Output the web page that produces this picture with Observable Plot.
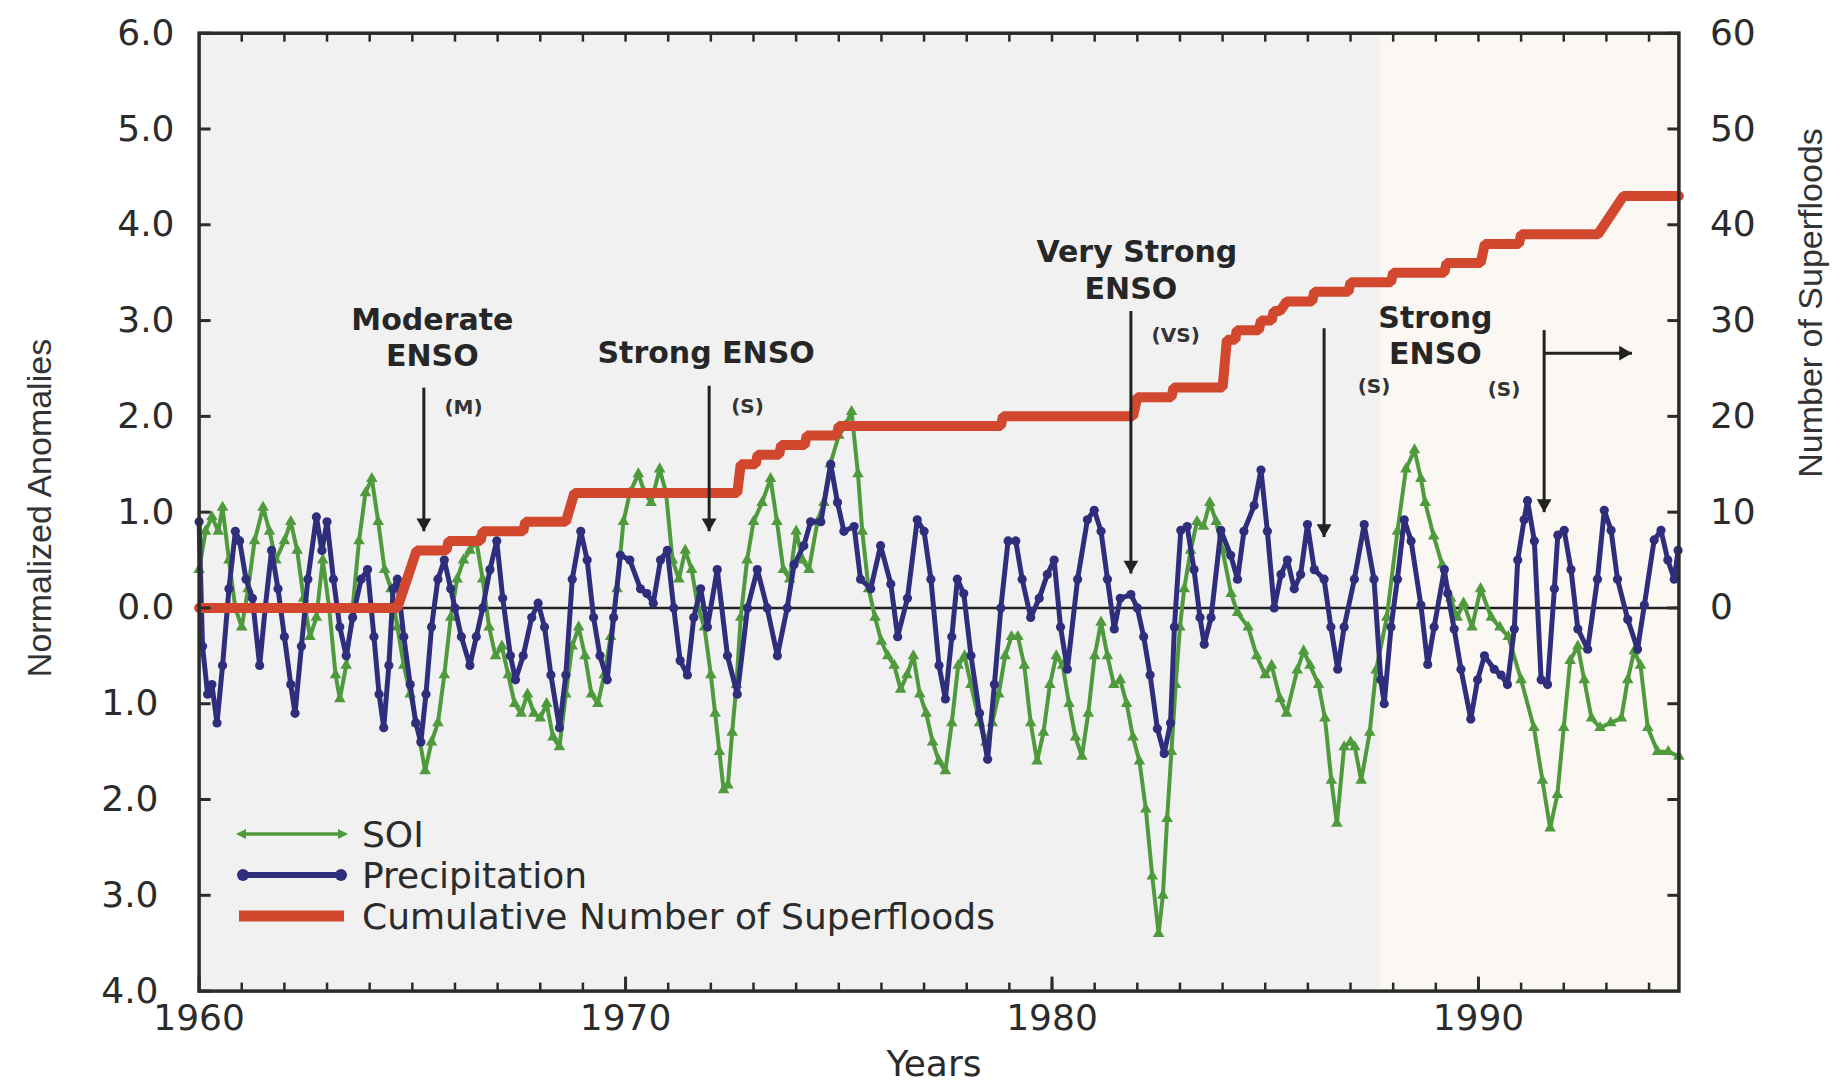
<!DOCTYPE html>
<html><head><meta charset="utf-8">
<script src="https://cdn.jsdelivr.net/npm/d3@7"></script>
<script src="https://cdn.jsdelivr.net/npm/@observablehq/plot@0.6"></script>
<style>
html,body{margin:0;padding:0;background:#fff;}
#wrap{position:relative;width:1832px;height:1084px;overflow:hidden;background:#fff;}
#wrap svg{position:absolute;left:0;top:0;}
</style></head><body><div id="wrap"></div>
<script>
// ---- data ----
const soiSeries = [[1960.0,0.4],[1960.15,0.8],[1960.3,0.95],[1960.45,0.8],[1960.55,1.05],[1960.7,0.5],[1960.85,0.0],[1961.0,-0.2],[1961.15,0.2],[1961.3,0.7],[1961.5,1.05],[1961.65,0.8],[1961.8,0.5],[1962.0,0.7],[1962.15,0.9],[1962.3,0.6],[1962.45,0.1],[1962.6,-0.3],[1962.75,-0.1],[1962.9,0.5],[1963.05,0.0],[1963.2,-0.7],[1963.3,-0.95],[1963.45,-0.6],[1963.6,0.0],[1963.75,0.7],[1963.9,1.2],[1964.05,1.35],[1964.2,0.9],[1964.35,0.4],[1964.5,0.2],[1964.65,-0.2],[1964.8,-0.6],[1964.95,-0.9],[1965.1,-1.2],[1965.3,-1.7],[1965.45,-1.4],[1965.6,-1.2],[1965.75,-0.7],[1965.9,-0.1],[1966.05,0.3],[1966.2,0.5],[1966.35,0.6],[1966.5,0.7],[1966.65,0.3],[1966.8,-0.2],[1966.95,-0.5],[1967.1,-0.4],[1967.25,-0.7],[1967.4,-1.0],[1967.55,-1.1],[1967.7,-0.9],[1967.85,-1.1],[1968.0,-1.15],[1968.15,-1.0],[1968.3,-1.35],[1968.45,-1.45],[1968.6,-0.9],[1968.75,-0.4],[1968.9,-0.2],[1969.05,-0.5],[1969.2,-0.9],[1969.35,-1.0],[1969.5,-0.7],[1969.65,-0.3],[1969.8,0.2],[1969.95,0.9],[1970.1,1.2],[1970.3,1.4],[1970.45,1.2],[1970.6,1.1],[1970.8,1.45],[1970.95,1.2],[1971.1,0.5],[1971.25,0.3],[1971.4,0.6],[1971.55,0.4],[1971.7,0.0],[1971.85,-0.2],[1972.0,-0.7],[1972.1,-1.1],[1972.2,-1.5],[1972.3,-1.9],[1972.4,-1.85],[1972.5,-1.3],[1972.6,-0.8],[1972.7,-0.1],[1972.85,0.5],[1973.0,0.9],[1973.2,1.1],[1973.4,1.35],[1973.55,0.9],[1973.7,0.4],[1973.85,0.3],[1974.0,0.8],[1974.15,0.5],[1974.3,0.4],[1974.5,0.9],[1974.65,1.1],[1974.8,1.5],[1975.0,1.8],[1975.15,1.9],[1975.3,2.05],[1975.45,1.4],[1975.55,0.8],[1975.7,0.2],[1975.85,-0.1],[1976.0,-0.35],[1976.15,-0.5],[1976.3,-0.6],[1976.45,-0.85],[1976.6,-0.7],[1976.75,-0.5],[1976.9,-0.9],[1977.05,-1.1],[1977.2,-1.4],[1977.35,-1.6],[1977.5,-1.7],[1977.65,-1.2],[1977.8,-0.6],[1977.95,-0.5],[1978.1,-0.8],[1978.3,-1.2],[1978.45,-1.4],[1978.6,-1.2],[1978.75,-0.9],[1978.9,-0.5],[1979.05,-0.3],[1979.2,-0.3],[1979.35,-0.6],[1979.5,-1.2],[1979.65,-1.6],[1979.8,-1.3],[1979.95,-0.8],[1980.1,-0.5],[1980.25,-0.6],[1980.4,-1.0],[1980.55,-1.35],[1980.7,-1.55],[1980.85,-1.1],[1981.0,-0.5],[1981.15,-0.15],[1981.3,-0.5],[1981.45,-0.8],[1981.6,-0.75],[1981.75,-1.0],[1981.9,-1.35],[1982.05,-1.6],[1982.2,-2.1],[1982.35,-2.8],[1982.5,-3.4],[1982.6,-3.0],[1982.7,-2.2],[1982.8,-1.5],[1982.9,-0.8],[1983.0,-0.2],[1983.1,0.2],[1983.25,0.6],[1983.4,0.9],[1983.55,0.85],[1983.7,1.1],[1983.85,0.9],[1984.0,0.6],[1984.2,0.15],[1984.35,-0.05],[1984.6,-0.2],[1984.8,-0.5],[1985.0,-0.7],[1985.15,-0.6],[1985.35,-0.95],[1985.5,-1.1],[1985.75,-0.65],[1985.9,-0.45],[1986.05,-0.6],[1986.25,-0.8],[1986.4,-1.15],[1986.55,-1.8],[1986.68,-2.25],[1986.85,-1.45],[1987.0,-1.4],[1987.1,-1.45],[1987.25,-1.8],[1987.45,-1.3],[1987.6,-0.65],[1987.85,-0.1],[1988.1,0.8],[1988.3,1.45],[1988.5,1.65],[1988.65,1.35],[1988.75,1.1],[1988.95,0.75],[1989.15,0.45],[1989.35,0.1],[1989.5,-0.1],[1989.65,0.05],[1989.85,-0.2],[1990.05,0.2],[1990.3,-0.1],[1990.5,-0.2],[1990.7,-0.3],[1991.0,-0.75],[1991.3,-1.25],[1991.5,-1.8],[1991.68,-2.3],[1991.85,-1.95],[1992.0,-1.25],[1992.15,-0.55],[1992.33,-0.4],[1992.48,-0.75],[1992.65,-1.15],[1992.85,-1.25],[1993.1,-1.2],[1993.35,-1.15],[1993.5,-0.75],[1993.65,-0.45],[1993.8,-0.6],[1993.97,-1.25],[1994.2,-1.5],[1994.45,-1.5],[1994.7,-1.55]];

const precipSeries = [[1960.0,0.9],[1960.08,-0.4],[1960.2,-0.9],[1960.3,-0.8],[1960.42,-1.2],[1960.55,-0.6],[1960.7,0.2],[1960.85,0.8],[1960.95,0.7],[1961.1,0.3],[1961.25,0.1],[1961.42,-0.6],[1961.55,0.0],[1961.7,0.6],[1961.85,0.2],[1962.0,-0.3],[1962.15,-0.8],[1962.25,-1.1],[1962.4,-0.4],[1962.55,0.3],[1962.75,0.95],[1962.88,0.6],[1963.0,0.9],[1963.15,0.3],[1963.3,-0.2],[1963.45,-0.5],[1963.6,-0.1],[1963.8,0.3],[1963.95,0.4],[1964.1,-0.3],[1964.22,-0.9],[1964.33,-1.25],[1964.45,-0.6],[1964.55,0.2],[1964.65,0.3],[1964.8,-0.3],[1964.95,-0.8],[1965.08,-1.2],[1965.2,-1.4],[1965.32,-0.9],[1965.45,-0.2],[1965.6,0.3],[1965.75,0.5],[1965.9,0.2],[1966.0,0.0],[1966.15,-0.3],[1966.35,-0.6],[1966.5,-0.3],[1966.65,0.0],[1966.82,0.4],[1966.98,0.7],[1967.12,0.1],[1967.3,-0.5],[1967.42,-0.75],[1967.6,-0.5],[1967.8,-0.1],[1967.95,0.05],[1968.1,-0.2],[1968.25,-0.7],[1968.45,-1.25],[1968.6,-0.7],[1968.75,0.3],[1968.95,0.8],[1969.1,0.5],[1969.25,-0.1],[1969.4,-0.5],[1969.57,-0.75],[1969.72,-0.1],[1969.88,0.55],[1970.1,0.5],[1970.35,0.2],[1970.5,0.15],[1970.65,0.05],[1970.82,0.5],[1970.98,0.6],[1971.13,0.0],[1971.28,-0.55],[1971.45,-0.7],[1971.6,-0.1],[1971.76,0.2],[1971.92,-0.2],[1972.15,0.4],[1972.39,-0.5],[1972.62,-0.9],[1972.86,0.0],[1973.09,0.4],[1973.32,0.0],[1973.56,-0.5],[1973.79,0.0],[1973.95,0.45],[1974.18,0.65],[1974.34,0.9],[1974.58,0.9],[1974.81,1.5],[1974.97,1.1],[1975.12,0.8],[1975.36,0.85],[1975.51,0.3],[1975.75,0.2],[1975.98,0.65],[1976.22,0.25],[1976.38,-0.3],[1976.61,0.1],[1976.84,0.92],[1977.0,0.8],[1977.16,0.3],[1977.35,-0.6],[1977.5,-0.95],[1977.65,-0.3],[1977.78,0.3],[1977.93,0.15],[1978.1,-0.5],[1978.3,-1.1],[1978.49,-1.58],[1978.65,-0.8],[1978.8,0.0],[1978.97,0.7],[1979.15,0.7],[1979.3,0.3],[1979.5,-0.1],[1979.7,0.1],[1979.89,0.35],[1980.05,0.5],[1980.2,-0.2],[1980.36,-0.64],[1980.6,0.3],[1980.83,0.92],[1980.99,1.02],[1981.15,0.8],[1981.3,0.3],[1981.46,-0.22],[1981.6,0.1],[1981.85,0.14],[1982.0,0.0],[1982.15,-0.3],[1982.3,-0.7],[1982.47,-1.26],[1982.63,-1.52],[1982.78,-1.2],[1982.87,-0.2],[1983.02,0.81],[1983.17,0.85],[1983.33,0.4],[1983.47,-0.1],[1983.57,-0.38],[1983.73,-0.1],[1983.96,0.81],[1984.19,0.55],[1984.35,0.3],[1984.5,0.8],[1984.74,1.07],[1984.9,1.44],[1985.05,0.8],[1985.21,0.0],[1985.37,0.35],[1985.52,0.5],[1985.68,0.2],[1985.83,0.35],[1985.99,0.87],[1986.15,0.4],[1986.38,0.3],[1986.54,-0.2],[1986.7,-0.64],[1986.85,-0.2],[1987.09,0.3],[1987.32,0.87],[1987.55,0.3],[1987.71,-0.75],[1987.79,-1.0],[1987.95,-0.2],[1988.1,0.3],[1988.26,0.92],[1988.42,0.7],[1988.65,0.03],[1988.81,-0.59],[1988.96,-0.2],[1989.2,0.4],[1989.28,0.15],[1989.43,-0.22],[1989.59,-0.64],[1989.82,-1.16],[1989.98,-0.75],[1990.14,-0.5],[1990.37,-0.64],[1990.53,-0.7],[1990.68,-0.8],[1990.84,-0.22],[1990.92,0.5],[1991.07,0.92],[1991.15,1.12],[1991.31,0.7],[1991.47,-0.75],[1991.62,-0.8],[1991.78,0.2],[1991.86,0.76],[1992.01,0.81],[1992.17,0.4],[1992.33,-0.22],[1992.56,-0.43],[1992.79,0.3],[1992.95,1.02],[1993.11,0.81],[1993.26,0.3],[1993.5,-0.12],[1993.73,-0.43],[1993.89,0.03],[1994.12,0.71],[1994.28,0.81],[1994.44,0.5],[1994.59,0.3],[1994.68,0.6]];

// cumulative number of superfloods (right axis, 0-60)
const floodSteps = [[1960.0,0],[1964.65,0],[1965.1,6],[1965.8,6],[1965.85,7],[1966.6,7],[1966.65,8],[1967.6,8],[1967.65,9],[1968.6,9],[1968.8,12],[1972.62,12],[1972.7,15],[1973.05,15],[1973.1,16],[1973.6,16],[1973.65,17],[1974.2,17],[1974.25,18],[1974.95,18],[1975.0,19],[1978.8,19],[1978.85,20],[1981.9,20],[1982.0,22],[1982.8,22],[1982.85,23],[1984.0,23],[1984.1,28],[1984.3,28],[1984.33,29],[1984.85,29],[1984.9,30],[1985.15,30],[1985.2,31],[1985.35,31],[1985.5,32],[1986.1,32],[1986.15,33],[1986.95,33],[1987.0,34],[1987.95,34],[1988.0,35],[1989.2,35],[1989.25,36],[1990.05,36],[1990.15,38],[1990.95,38],[1991.0,39],[1992.8,39],[1993.4,43],[1994.7,43]];

const yearTicks = [1960, 1970, 1980, 1990];
const anomalyTicks = [6, 5, 4, 3, 2, 1, 0, -1, -2, -3, -4];
const floodTicks = [0, 10, 20, 30, 40, 50, 60];

const ensoLabels = [
  {year: 1965.47, value: 3.00, text: "Moderate"},
  {year: 1965.47, value: 2.63, text: "ENSO"},
  {year: 1971.89, value: 2.66, text: "Strong ENSO"},
  {year: 1981.99, value: 3.71, text: "Very Strong"},
  {year: 1981.85, value: 3.33, text: "ENSO"},
  {year: 1988.99, value: 3.02, text: "Strong"},
  {year: 1988.99, value: 2.65, text: "ENSO"}
];
const severityLabels = [
  {year: 1966.2, value: 2.09, text: "(M)"},
  {year: 1972.86, value: 2.10, text: "(S)"},
  {year: 1982.9, value: 2.84, text: "(VS)"},
  {year: 1987.55, value: 2.31, text: "(S)"},
  {year: 1990.6, value: 2.28, text: "(S)"}
];
const ensoArrows = [
  {x1: 1965.27, y1: 2.30, x2: 1965.27, y2: 0.80, dir: "down"},
  {x1: 1971.96, y1: 2.32, x2: 1971.96, y2: 0.80, dir: "down"},
  {x1: 1981.85, y1: 3.10, x2: 1981.85, y2: 0.36, dir: "down"},
  {x1: 1986.38, y1: 2.92, x2: 1986.38, y2: 0.74, dir: "down"},
  {x1: 1991.54, y1: 2.90, x2: 1991.54, y2: 1.00, dir: "down"},
  {x1: 1991.54, y1: 2.66, x2: 1993.6, y2: 2.66, dir: "right"}
];
const bgBands = [{start: 1987.7, end: 1994.7}];
const legendItems = [
  {label: "SOI", key: "soi"},
  {label: "Precipitation", key: "precip"},
  {label: "Cumulative Number of Superfloods", key: "flood"}
];

// ---- styles ----
const soiColor = "#4f9a3c";
const precipColor = "#2f2e7c";
const floodColor = "#d2482e";
const inkColor = "#262626";

const px = d => d[0], py = d => d[1];
const absFmt = d => Math.abs(d).toFixed(1);
const blank = () => "";

const chart = Plot.plot({
  width: 1832, height: 1084,
  marginLeft: 198.6, marginRight: 153.6, marginTop: 32.7, marginBottom: 93.4,
  x: {domain: [1960, 1994.7]},
  y: {domain: [-4, 6]},
  style: {fontFamily: "'DejaVu Sans'", fontSize: "36px", color: "#2b2b2b", background: "transparent", overflow: "visible"},
  marks: [
    Plot.frame({fill: "#f1f1f1", stroke: "none"}),
    Plot.rect(bgBands, {x1: "start", x2: "end", fill: "#fbf8f4"}),
    Plot.ruleY([0], {stroke: "#222", strokeWidth: 2.5}),
    Plot.line(soiSeries, {x: px, y: py, stroke: soiColor, strokeWidth: 4, strokeLinejoin: "round"}),
    Plot.dot(soiSeries, {x: px, y: py, symbol: "triangle", r: 4.3, fill: soiColor}),
    Plot.line(precipSeries, {x: px, y: py, stroke: precipColor, strokeWidth: 5, strokeLinejoin: "round"}),
    Plot.dot(precipSeries, {x: px, y: py, r: 4.6, fill: precipColor}),
    Plot.line(floodSteps, {x: px, y: d => d[1] / 10, stroke: floodColor, strokeWidth: 10, strokeLinejoin: "miter"}),
    Plot.link(ensoArrows, {x1: "x1", y1: "y1", x2: "x2", y2: "y2", stroke: "#222", strokeWidth: 3}),
    Plot.dot(ensoArrows.filter(d => d.dir === "down"), {x: "x2", y: "y2", symbol: "triangle", r: 5.5, rotate: 180, fill: "#222", dy: -8.5}),
    Plot.dot(ensoArrows.filter(d => d.dir === "right"), {x: "x2", y: "y2", symbol: "triangle", r: 5.5, rotate: 90, fill: "#222", dx: -8.5}),
    Plot.text(ensoLabels, {x: "year", y: "value", text: "text", fontFamily: "'DejaVu Sans'", fontWeight: "bold", fontSize: 30, fill: inkColor}),
    Plot.text(severityLabels, {x: "year", y: "value", text: "text", fontFamily: "'DejaVu Sans'", fontWeight: "bold", fontSize: 20, fill: "#333"}),
    // left axis
    Plot.axisY(anomalyTicks.filter(d => d >= 0), {anchor: "left", tickSize: 0, tickPadding: 24.6, tickFormat: absFmt, label: null}),
    Plot.axisY(anomalyTicks.filter(d => d < 0), {anchor: "left", tickSize: 0, tickPadding: 40.6, tickFormat: absFmt, label: null}),
    Plot.axisY(anomalyTicks, {anchor: "left", tickSize: -12, tickFormat: blank, strokeWidth: 3, label: null}),
    // right axis
    Plot.axisY(floodTicks.map(c => c / 10), {anchor: "right", tickSize: 0, tickPadding: 31, tickFormat: d => String(Math.round(d * 10)), label: null}),
    Plot.axisY(anomalyTicks.filter(d => d > -4), {anchor: "right", tickSize: -12, tickFormat: blank, strokeWidth: 3, label: null}),
    // bottom axis
    Plot.axisX(yearTicks, {anchor: "bottom", tickSize: 0, tickPadding: 13, tickFormat: d => String(d), label: null}),
    Plot.axisX(d3.range(1961, 1995), {anchor: "bottom", tickSize: -8, tickFormat: blank, strokeWidth: 2.5, label: null}),
    Plot.axisX(yearTicks, {anchor: "bottom", tickSize: -14, tickFormat: blank, strokeWidth: 3, label: null}),
    // top axis ticks
    Plot.axisX(d3.range(1961, 1995), {anchor: "top", tickSize: -8, tickFormat: blank, strokeWidth: 2.5, label: null}),
    Plot.frame({stroke: "#2b2b2b", strokeWidth: 3.5})
  ]
});
document.getElementById("wrap").appendChild(chart);

// ---- overlay: axis titles and in-plot legend ----
const ov = d3.select("#wrap").append("svg").attr("width", 1832).attr("height", 1084);
ov.append("text").attr("transform", "translate(51,508) rotate(-90)").attr("text-anchor", "middle")
  .style("font-family", "'Liberation Sans'").style("font-size", "34px").attr("fill", "#333").text("Normalized Anomalies");
ov.append("text").attr("transform", "translate(1822,303) rotate(-90)").attr("text-anchor", "middle")
  .style("font-family", "'Liberation Sans'").style("font-size", "34px").attr("fill", "#333").text("Number of Superfloods");
ov.append("text").attr("x", 934).attr("y", 1076).attr("text-anchor", "middle")
  .style("font-family", "'DejaVu Sans'").style("font-size", "36px").attr("fill", "#2b2b2b").text("Years");

const lg = ov.append("g");
legendItems.forEach((it, i) => {
  const yy = 834 + i * 41;
  const g = lg.append("g");
  if (it.key === "soi") {
    g.append("line").attr("x1", 242).attr("x2", 342).attr("y1", yy).attr("y2", yy).attr("stroke", soiColor).attr("stroke-width", 3.5);
    g.append("path").attr("d", `M236,${yy}L246,${yy - 5}L246,${yy + 5}Z`).attr("fill", soiColor);
    g.append("path").attr("d", `M348,${yy}L338,${yy - 5}L338,${yy + 5}Z`).attr("fill", soiColor);
  } else if (it.key === "precip") {
    g.append("line").attr("x1", 242).attr("x2", 342).attr("y1", yy).attr("y2", yy).attr("stroke", precipColor).attr("stroke-width", 6);
    g.append("circle").attr("cx", 243).attr("cy", yy).attr("r", 6).attr("fill", precipColor);
    g.append("circle").attr("cx", 341).attr("cy", yy).attr("r", 6).attr("fill", precipColor);
  } else {
    g.append("line").attr("x1", 239).attr("x2", 344).attr("y1", yy).attr("y2", yy).attr("stroke", floodColor).attr("stroke-width", 11);
  }
  g.append("text").attr("x", 362).attr("y", yy).attr("dominant-baseline", "central")
    .style("font-family", "'DejaVu Sans'").style("font-size", "36px").attr("fill", "#2b2b2b").text(it.label);
});
</script>
</body></html>
